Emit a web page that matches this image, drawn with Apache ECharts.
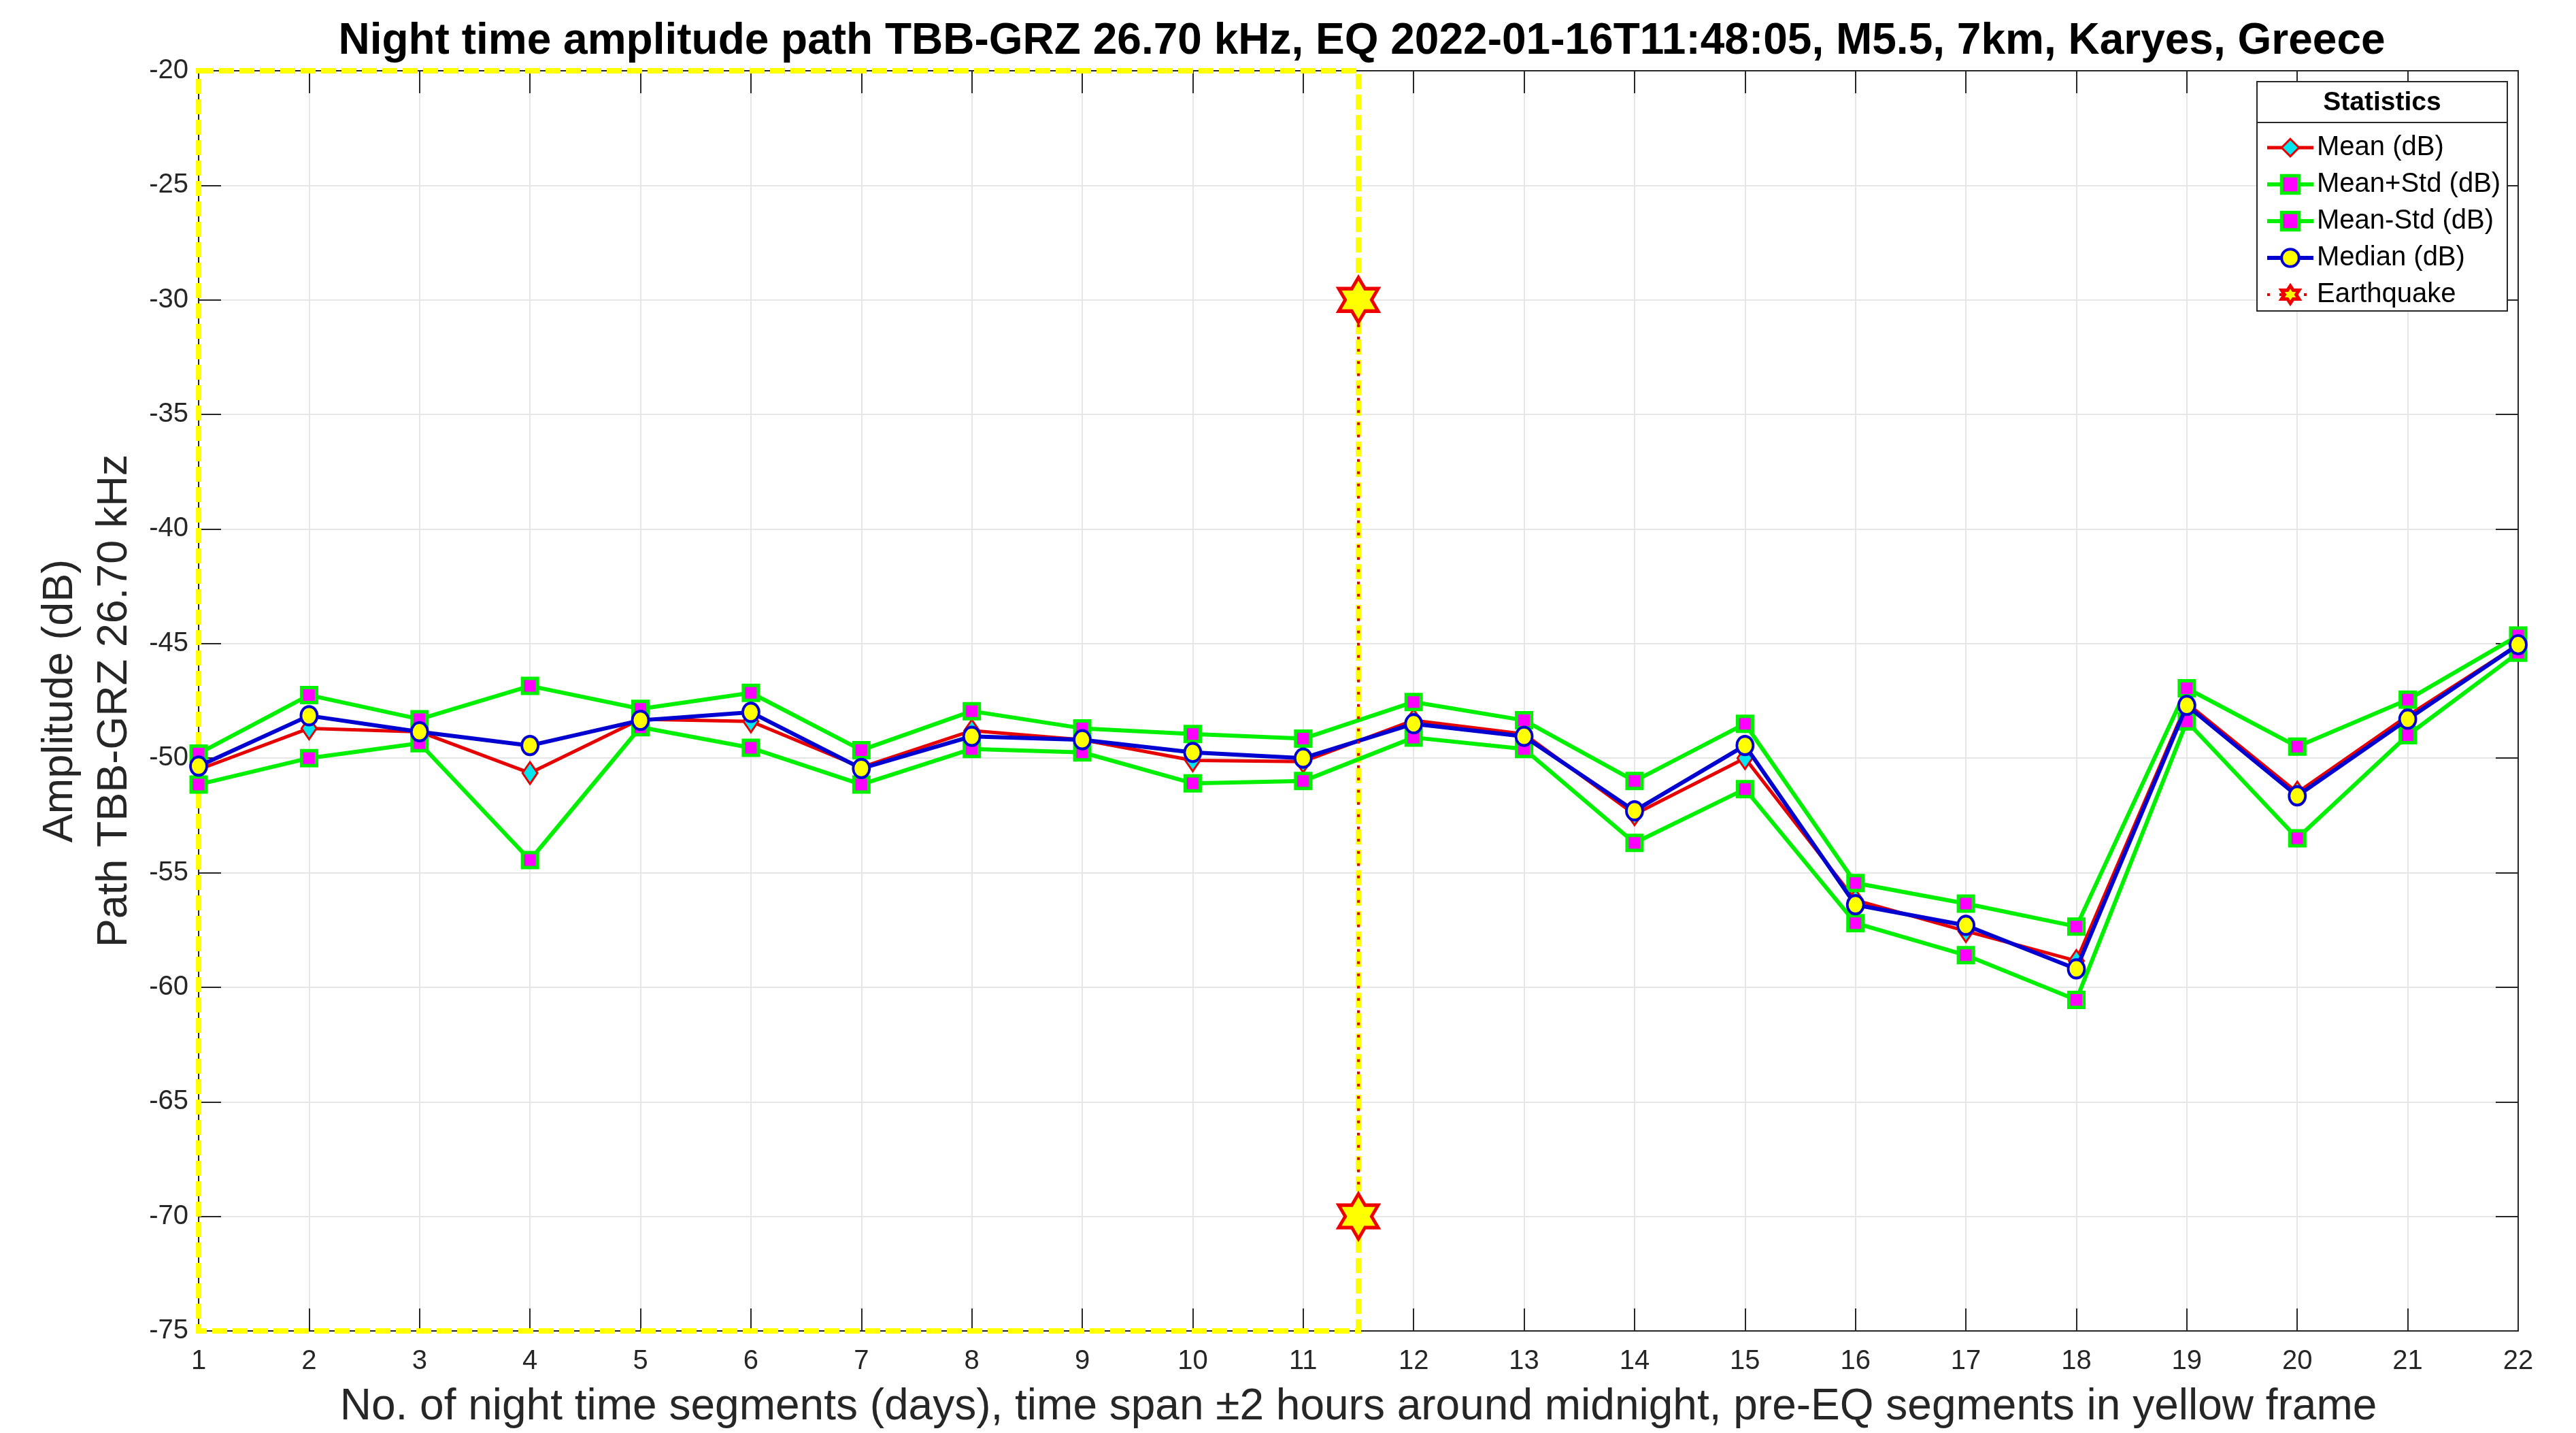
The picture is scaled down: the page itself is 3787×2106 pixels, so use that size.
<!DOCTYPE html>
<html>
<head>
<meta charset="utf-8">
<title>Night time amplitude path TBB-GRZ</title>
<script src="https://cdn.jsdelivr.net/npm/echarts@6/dist/echarts.min.js"></script>
<style>
  html, body { margin: 0; padding: 0; background: #fff; }
  #chart { width: 3787px; height: 2106px; }
</style>
</head>
<body>
<div id="chart"></div>
<script>
// night time segments (days)
const days = [1, 2, 3, 4, 5, 6, 7, 8, 9, 10, 11, 12, 13, 14, 15, 16, 17, 18, 19, 20, 21, 22]

// amplitude statistics (dB)
const meanDb = [-50.5, -48.7, -48.85, -50.65, -48.3, -48.4, -50.4, -48.8, -49.2, -50.1, -50.15,
  -48.35, -48.95, -52.45, -50.0, -56.2, -57.55, -58.85, -47.6, -51.5, -48.15, -45.05]
const meanPlusStd = [-49.8, -47.25, -48.3, -46.85, -47.85, -47.15, -49.65, -47.95, -48.7, -48.95, -49.15,
  -47.55, -48.35, -51.0, -48.5, -55.45, -56.35, -57.35, -46.95, -49.5, -47.45, -44.65]
const meanMinusStd = [-51.15, -50.0, -49.35, -54.45, -48.65, -49.55, -51.15, -49.6, -49.75, -51.1, -51.0,
  -49.1, -49.6, -53.7, -51.35, -57.2, -58.6, -60.55, -48.4, -53.5, -49.0, -45.4]
const medianDb = [-50.35, -48.15, -48.85, -49.45, -48.35, -48.0, -50.45, -49.05, -49.2, -49.75, -50.0,
  -48.5, -49.05, -52.3, -49.45, -56.4, -57.3, -59.2, -47.7, -51.65, -48.3, -45.05]

// earthquake marker and pre-EQ frame
const eqDay = 11.5
const eqMarks = [-30, -70]
const preEqStart = 1

// axes
const yMin = -75
const yMax = -20
const yStep = 5

const pair = arr => days.map((d, i) => [d, arr[i]])

const starPath = 'path://M0,-10 L2.887,-5 L8.66,-5 L5.774,0 L8.66,5 L2.887,5 L0,10 L-2.887,5 L-8.66,5 L-5.774,0 L-8.66,-5 L-2.887,-5 Z'

const font = 'Liberation Sans, Arial, Helvetica, sans-serif'
const ink = '#262626'
const green = '#00f000'
const red = '#e60000'
const blue = '#0000d0'

const myChart = echarts.init(document.getElementById('chart'))

const stdSeries = (name, arr) => ({
  name: name,
  type: 'line',
  data: pair(arr),
  symbol: 'rect',
  symbolSize: 22,
  lineStyle: { color: green, width: 6 },
  itemStyle: { color: '#ff00ff', borderColor: green, borderWidth: 5 },
  z: 3
})

const option = {
  animation: false,
  backgroundColor: '#ffffff',
  textStyle: { fontFamily: font },
  title: {
    text: 'Night time amplitude path TBB-GRZ 26.70 kHz, EQ 2022-01-16T11:48:05, M5.5, 7km, Karyes, Greece',
    left: 1997,
    top: 24,
    textAlign: 'center',
    textStyle: { fontFamily: font, fontSize: 64, fontWeight: 'bold', color: '#000' }
  },
  grid: { left: 292, right: 85, top: 104, bottom: 150 },
  legend: {
    orient: 'vertical',
    left: 3325,
    top: 192,
    itemWidth: 68,
    itemHeight: 32,
    itemGap: 14,
    data: [
      { name: 'Mean (dB)', lineStyle: { width: 5 }, itemStyle: { borderWidth: 3 } },
      { name: 'Mean+Std (dB)', lineStyle: { width: 6 }, itemStyle: { borderWidth: 5 } },
      { name: 'Mean-Std (dB)', lineStyle: { width: 6 }, itemStyle: { borderWidth: 5 } },
      { name: 'Median (dB)', lineStyle: { width: 6 }, itemStyle: { borderWidth: 4 } },
      { name: 'Earthquake', lineStyle: { width: 4 }, itemStyle: { borderWidth: 5 } }
    ],
    textStyle: { fontFamily: font, fontSize: 40, color: '#000', lineHeight: 32 },
    z: 5
  },
  graphic: [
    {
      type: 'rect',
      z: 3,
      shape: { x: 3318, y: 120, width: 368, height: 337 },
      style: { fill: '#fff', stroke: ink, lineWidth: 2 }
    },
    {
      type: 'line',
      z: 3,
      shape: { x1: 3318, y1: 180, x2: 3686, y2: 180 },
      style: { stroke: ink, lineWidth: 2 }
    },
    {
      type: 'text',
      z: 3,
      x: 3502,
      y: 151,
      style: {
        text: 'Statistics', fill: '#000', font: 'bold 39px ' + font,
        align: 'center', verticalAlign: 'middle'
      }
    }
  ],
  xAxis: [
    {
      type: 'value',
      min: 1,
      max: 22,
      interval: 1,
      name: 'No. of night time segments (days), time span \u00b12 hours around midnight, pre-EQ segments in yellow frame',
      nameLocation: 'middle',
      nameGap: 80,
      nameTextStyle: { fontFamily: font, fontSize: 64, color: ink },
      axisLine: { onZero: false, lineStyle: { color: ink, width: 2 } },
      axisTick: { inside: true, length: 33, lineStyle: { color: ink, width: 2 } },
      axisLabel: { margin: 25, fontFamily: font, fontSize: 40, color: ink },
      splitLine: { show: true, lineStyle: { color: '#e6e6e6', width: 2 } }
    },
    {
      type: 'value',
      position: 'top',
      min: 1,
      max: 22,
      interval: 1,
      axisLine: { onZero: false, lineStyle: { color: ink, width: 2 } },
      axisTick: { inside: true, length: 33, lineStyle: { color: ink, width: 2 } },
      axisLabel: { show: false },
      splitLine: { show: false }
    }
  ],
  yAxis: [
    {
      type: 'value',
      min: yMin,
      max: yMax,
      interval: yStep,
      name: 'Amplitude (dB)\nPath TBB-GRZ 26.70 kHz',
      nameLocation: 'middle',
      nameGap: 63,
      nameTextStyle: { fontFamily: font, fontSize: 63, color: ink, lineHeight: 80 },
      axisLine: { onZero: false, lineStyle: { color: ink, width: 2 } },
      axisTick: { inside: true, length: 33, lineStyle: { color: ink, width: 2 } },
      axisLabel: { margin: 15, fontFamily: font, fontSize: 40, color: ink },
      splitLine: { show: true, lineStyle: { color: '#e6e6e6', width: 2 } }
    },
    {
      type: 'value',
      position: 'right',
      min: yMin,
      max: yMax,
      interval: yStep,
      axisLine: { onZero: false, lineStyle: { color: ink, width: 2 } },
      axisTick: { inside: true, length: 33, lineStyle: { color: ink, width: 2 } },
      axisLabel: { show: false },
      splitLine: { show: false }
    }
  ],
  series: [
    {
      name: 'Mean (dB)',
      type: 'line',
      data: pair(meanDb),
      symbol: 'diamond',
      symbolSize: [22, 32],
      lineStyle: { color: red, width: 5 },
      itemStyle: { color: '#00e5ee', borderColor: red, borderWidth: 3 },
      z: 3
    },
    stdSeries('Mean+Std (dB)', meanPlusStd),
    stdSeries('Mean-Std (dB)', meanMinusStd),
    {
      name: 'Median (dB)',
      type: 'line',
      data: pair(medianDb),
      symbol: 'circle',
      symbolSize: [24, 27],
      lineStyle: { color: blue, width: 6 },
      itemStyle: { color: '#ffff00', borderColor: blue, borderWidth: 4 },
      z: 4
    },
    {
      name: 'Earthquake',
      type: 'line',
      data: eqMarks.map(v => [eqDay, v]),
      symbol: starPath,
      symbolSize: [58, 66],
      lineStyle: { color: '#e00000', width: 4, type: [4, 14] },
      itemStyle: { color: '#ffff00', borderColor: '#ee0000', borderWidth: 5 },
      z: 6,
      markArea: {
        silent: true,
        itemStyle: {
          color: 'rgba(0,0,0,0)',
          borderColor: '#ffff00',
          borderWidth: 8,
          borderType: [22, 8]
        },
        data: [[{ xAxis: preEqStart, yAxis: yMax }, { xAxis: eqDay, yAxis: yMin }]]
      }
    }
  ]
}

myChart.setOption(option)
</script>
</body>
</html>
